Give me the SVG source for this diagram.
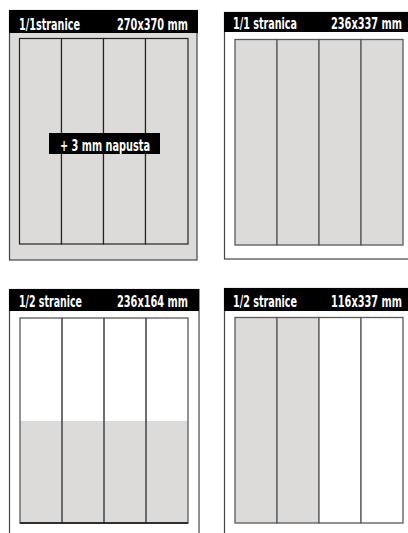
<svg xmlns="http://www.w3.org/2000/svg" width="408" height="533" viewBox="0 0 408 533">
<style>
.hdr{fill:#000}
.t{font-family:"Liberation Sans Narrow","DejaVu Sans Condensed","Liberation Sans",sans-serif;font-weight:bold;font-size:16.5px;fill:#fff}
.outer{stroke:#444;stroke-width:1.2}
.col{stroke:#5a5a5a;stroke-width:1.3}
.colk{stroke:#222;stroke-width:1.2}
.g{fill:#dcdbda}
</style>
<rect width="408" height="533" fill="#fff"/>
<g id="panel1">
<rect class="outer g" x="9.5" y="10.5" width="187.5" height="249.5"/>
<rect class="hdr" x="9" y="10" width="189" height="23"/>
<text class="t" x="19" y="29.5" textLength="61" lengthAdjust="spacingAndGlyphs">1/1stranice</text>
<text class="t" x="117" y="29.5" textLength="71" lengthAdjust="spacingAndGlyphs">270x370 mm</text>
<g class="colk" fill="#dcdbda">
<rect x="19.5" y="38.5" width="42" height="205.5"/>
<rect x="61.5" y="38.5" width="42" height="205.5"/>
<rect x="103.5" y="38.5" width="42" height="205.5"/>
<rect x="145.5" y="38.5" width="42.5" height="205.5"/>
</g>
<rect x="49" y="133" width="111" height="21" fill="#000"/>
<text class="t" x="60" y="151" textLength="90" lengthAdjust="spacingAndGlyphs">+ 3 mm napusta</text>
</g>
<g id="panel2">
<rect class="outer" x="224.5" y="12.5" width="190" height="246.5" fill="#fff"/>
<rect class="hdr" x="224" y="12" width="184" height="20"/>
<text class="t" x="233" y="28.5" textLength="64" lengthAdjust="spacingAndGlyphs">1/1 stranica</text>
<text class="t" x="331" y="28.5" textLength="71" lengthAdjust="spacingAndGlyphs">236x337 mm</text>
<g class="col" fill="#dcdbda">
<rect x="235" y="39.5" width="42" height="205.5"/>
<rect x="277" y="39.5" width="42" height="205.5"/>
<rect x="319" y="39.5" width="42" height="205.5"/>
<rect x="361" y="39.5" width="42" height="205.5"/>
</g>
</g>
<g id="panel3">
<rect class="outer" x="9.5" y="289.5" width="189.5" height="260" fill="#fff"/>
<rect class="hdr" x="9" y="289" width="190" height="22"/>
<text class="t" x="19" y="307" textLength="63" lengthAdjust="spacingAndGlyphs">1/2 stranice</text>
<text class="t" x="117" y="307" textLength="71" lengthAdjust="spacingAndGlyphs">236x164 mm</text>
<rect class="g" x="20" y="421" width="168" height="102"/>
<g class="col" fill="none">
<rect x="20" y="318" width="42" height="205"/>
<rect x="62" y="318" width="42" height="205"/>
<rect x="104" y="318" width="42" height="205"/>
<rect x="146" y="318" width="42" height="205"/>
</g>
<line x1="20" y1="523" x2="188" y2="523" stroke="#111" stroke-width="1.3"/>
</g>
<g id="panel4">
<rect class="outer" x="224.5" y="288.5" width="190" height="260" fill="#fff"/>
<rect class="hdr" x="224" y="288" width="184" height="23"/>
<text class="t" x="233" y="307" textLength="64" lengthAdjust="spacingAndGlyphs">1/2 stranice</text>
<text class="t" x="331" y="307" textLength="71" lengthAdjust="spacingAndGlyphs">116x337 mm</text>
<g class="col">
<rect x="235" y="317.5" width="42" height="205.5" fill="#dcdbda"/>
<rect x="277" y="317.5" width="42" height="205.5" fill="#dcdbda"/>
<rect x="319" y="317.5" width="42" height="205.5" fill="#fff"/>
<rect x="361" y="317.5" width="42" height="205.5" fill="#fff"/>
</g>
</g>
</svg>
